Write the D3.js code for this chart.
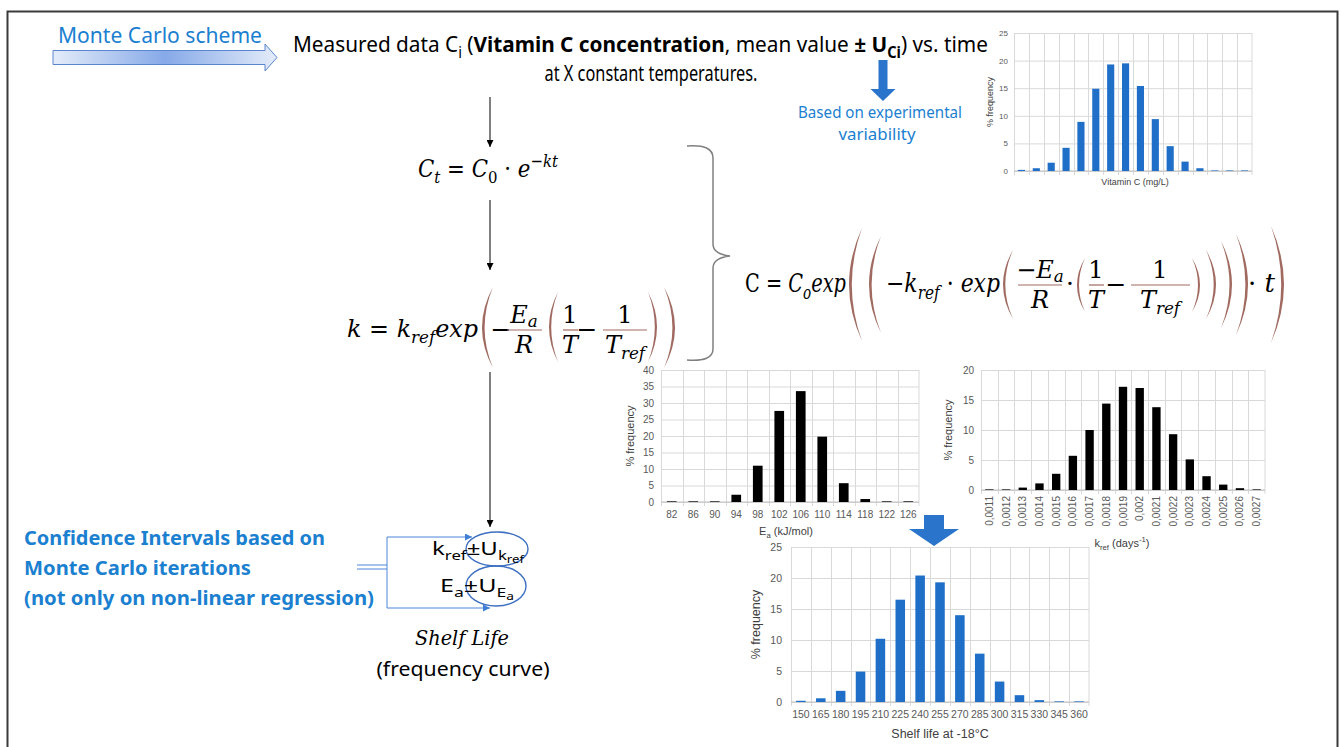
<!DOCTYPE html>
<html lang="en">
<head>
<meta charset="UTF-8">
<title>Monte Carlo scheme</title>
<script src="https://d3js.org/d3.v7.min.js"></script>
<style>
    body { margin: 0; background: #fff; }
    svg { display: block; }
</style>
</head>
<body>
<script>
    const W = 1341, H = 747;

    // histogram data (% frequency)
    const vitCBins = ["1","2","3","4","5","6","7","8","9","10","11","12","13","14","15","16"];
    const vitCValues = [0.2, 0.5, 1.5, 4.2, 8.9, 14.9, 19.3, 19.5, 15.4, 9.4, 4.5, 1.7, 0.5, 0.1, 0.1, 0.1];

    const eaLabels = ["82","86","90","94","98","102","106","110","114","118","122","126"];
    const eaValues = [0.2, 0.2, 0.2, 2.2, 11, 27.6, 33.6, 19.8, 5.7, 0.9, 0.2, 0.2];

    const krefLabels = ["0,0011","0,0012","0,0013","0,0014","0,0015","0,0016","0,0017","0,0018","0,0019",
                        "0,002","0,0021","0,0022","0,0023","0,0024","0,0025","0,0026","0,0027"];
    const krefValues = [0.1, 0.1, 0.4, 1.1, 2.7, 5.7, 10, 14.4, 17.2, 17, 13.8, 9.3, 5.1, 2.3, 0.9, 0.3, 0.1];

    const shelfLabels = ["150","165","180","195","210","225","240","255","270","285","300","315","330","345","360"];
    const shelfValues = [0.2, 0.6, 1.8, 4.9, 10.2, 16.5, 20.4, 19.3, 14, 7.8, 3.3, 1.1, 0.3, 0.1, 0.1];

    const SANS = "'Noto Sans', 'Open Sans', sans-serif";
    const SMALL = "'Liberation Sans', Arial, sans-serif";
    const MATH = "'DejaVu Serif', 'Liberation Serif', serif";
    const BLUE_TXT = "#1b80d0";
    const BAR_BLUE = "#1f6fc8";
    const PAREN = "#a06a60";

    const svg = d3.select("body").append("svg")
        .attr("width", W).attr("height", H);

    const defs = svg.append("defs");
    const grad = defs.append("linearGradient").attr("id", "mcGrad");
    grad.append("stop").attr("offset", "0%").attr("stop-color", "#e4ecf9");
    grad.append("stop").attr("offset", "50%").attr("stop-color", "#86a9e8");
    grad.append("stop").attr("offset", "100%").attr("stop-color", "#e4ecf9");

    function marker(id, color) {
        defs.append("marker").attr("id", id)
            .attr("viewBox", "0 0 10 10").attr("refX", 10).attr("refY", 5)
            .attr("markerWidth", 7).attr("markerHeight", 7).attr("orient", "auto")
            .append("path").attr("d", "M0,0L10,5L0,10Z").attr("fill", color);
    }
    marker("arrBlack", "#000");
    marker("arrBlue", "#3f7fd6");

    // rich text: parts = [{t, sub:1|2, sup, b, i, f}]
    function rich(sel, parts, fs, subK) {
        const k = subK || 0.25;
        let shift = 0;
        parts.forEach(p => {
            let off = 0, size = fs;
            if (p.sub === 1) { off = fs * k; size = fs * 0.7; }
            if (p.sub === 2) { off = fs * (k + 0.17); size = fs * 0.55; }
            if (p.sup) { off = -fs * 0.42; size = fs * 0.7; }
            const ts = sel.append("tspan").text(p.t)
                .attr("dy", off - shift)
                .attr("font-size", size);
            if (p.b) ts.attr("font-weight", "bold");
            if (p.i === false) ts.attr("font-style", "normal");
            if (p.i === true) ts.attr("font-style", "italic");
            if (p.f) ts.attr("font-family", p.f);
            shift = off;
        });
        return sel;
    }

    function label(x, y, parts, o) {
        const t = svg.append("text").attr("x", x).attr("y", y)
            .attr("font-family", o.font || SANS)
            .attr("font-size", o.fs)
            .attr("fill", o.color || "#000")
            .attr("text-anchor", o.anchor || "start");
        if (o.italic) t.attr("font-style", "italic");
        if (o.bold) t.attr("font-weight", "bold");
        if (o.len) t.attr("textLength", o.len).attr("lengthAdjust", "spacingAndGlyphs");
        return rich(t, typeof parts === "string" ? [{ t: parts }] : parts, o.fs, o.subK);
    }

    // ---- frame
    svg.append("rect").attr("x", 7.5).attr("y", 11.5).attr("width", 1330).attr("height", 760)
        .attr("fill", "none").attr("stroke", "#3a3a3a").attr("stroke-width", 2);

    // ---- Monte Carlo scheme arrow
    label(58, 43, "Monte Carlo scheme", { fs: 21, color: BLUE_TXT, len: 204 });
    svg.append("path")
        .attr("d", "M53,50.5H265V44L277,57.5L265,71V64.5H53Z")
        .attr("fill", "url(#mcGrad)").attr("stroke", "#5a86cf").attr("stroke-width", 1);

    // ---- heading
    label(293, 52, [
        { t: "Measured data C" }, { t: "i", sub: 1 }, { t: " (" },
        { t: "Vitamin C concentration", b: true }, { t: ", mean value " },
        { t: "± U", b: true }, { t: "Ci", sub: 1, b: true }, { t: ") vs. time" }
    ], { fs: 22, len: 695 });
    label(651, 81, "at X constant temperatures.", { fs: 22, len: 213, anchor: "middle" });

    // small blue arrow + note
    function blockArrow(cx, y0, y1, y2, shaftW, headW) {
        svg.append("path")
            .attr("d", `M${cx - shaftW / 2},${y0}H${cx + shaftW / 2}V${y1}H${cx + headW / 2}L${cx},${y2}L${cx - headW / 2},${y1}H${cx - shaftW / 2}Z`)
            .attr("fill", "#2b74cc");
    }
    blockArrow(883, 60, 89, 101, 9, 25);
    label(880, 118, "Based on experimental", { fs: 16, color: BLUE_TXT, len: 164, anchor: "middle" });
    label(877, 140, "variability", { fs: 16, color: BLUE_TXT, len: 77, anchor: "middle" });

    // ---- black arrows of the flow
    function vArrow(x, y0, y1) {
        svg.append("line").attr("x1", x).attr("x2", x).attr("y1", y0).attr("y2", y1)
            .attr("stroke", "#000").attr("stroke-width", 1).attr("marker-end", "url(#arrBlack)");
    }
    vArrow(490, 97, 147);
    vArrow(490, 200, 270);
    vArrow(490, 372, 527);

    // ---- parentheses & fraction helpers
    function paren(x, yT, yB, dir, b, w) {
        // dir = 1 for "(" (bulges left), -1 for ")"
        const ym = (yT + yB) / 2;
        svg.append("path")
            .attr("d", `M${x},${yT}Q${x - 2 * b * dir},${ym} ${x},${yB}Q${x - 2 * (b - w) * dir},${ym} ${x},${yT}Z`)
            .attr("fill", PAREN);
    }
    function frac(cx, x0, x1, yBar, num, den, fs) {
        svg.append("line").attr("x1", x0).attr("x2", x1).attr("y1", yBar).attr("y2", yBar)
            .attr("stroke", PAREN).attr("stroke-width", 1.2);
        label(cx, yBar - 7, num, { fs: fs, font: MATH, italic: true, anchor: "middle", subK: 0.15 });
        label(cx, yBar + 23, den, { fs: fs, font: MATH, italic: true, anchor: "middle" });
    }

    // ---- C_t = C_0 · e^-kt
    label(418, 177, [
        { t: "C" }, { t: "t", sub: 1 }, { t: " = ", i: false }, { t: "C" }, { t: "0", sub: 1, i: false },
        { t: " · ", i: false }, { t: "e" }, { t: "−kt", sup: true }
    ], { fs: 25, font: MATH, italic: true, len: 140 });

    // ---- k = k_ref exp(-Ea/R (1/T - 1/Tref))
    label(347, 337, [
        { t: "k" }, { t: " = ", i: false }, { t: "k" }, { t: "ref", sub: 1 }, { t: "exp" }
    ], { fs: 25, font: MATH, italic: true, len: 131 });
    paren(493, 287, 368, 1, 11, 2.6);
    label(501, 338, "−", { fs: 25, font: MATH, anchor: "middle" });
    frac(524, 507, 542, 330, [{ t: "E" }, { t: "a", sub: 1 }], "R", 24);
    paren(558, 292, 362, 1, 9, 2.2);
    frac(570, 563, 578, 330, [{ t: "1", i: false }], "T", 24);
    label(587, 338, "−", { fs: 25, font: MATH, anchor: "middle" });
    frac(625, 603, 647, 330, [{ t: "1", i: false }], [{ t: "T" }, { t: "ref", sub: 1 }], 24);
    paren(648, 292, 362, -1, 9, 2.2);
    paren(664, 287, 368, -1, 11, 2.6);

    // ---- brace
    svg.append("path")
        .attr("d", "M687,146Q713,144 713,158V244Q713,254 730,256Q713,258 713,268V349Q713,362 687,360")
        .attr("fill", "none").attr("stroke", "#808080").attr("stroke-width", 1.5);

    // ---- big model equation
    label(745, 292, [
        { t: "C", i: false }, { t: " = ", i: false }, { t: "C" }, { t: "o", sub: 1 }, { t: "exp" }
    ], { fs: 26, font: MATH, italic: true, len: 101 });
    paren(862, 228, 341, 1, 13, 2.8);
    paren(881, 236, 333, 1, 12, 2.6);
    label(886, 292, [
        { t: "−", i: false }, { t: "k" }, { t: "ref", sub: 1 }, { t: " · ", i: false }, { t: "exp" }
    ], { fs: 26, font: MATH, italic: true, len: 114 });
    paren(1013, 250, 319, 1, 10, 2.3);
    frac(1040, 1018, 1062, 285, [{ t: "−", i: false }, { t: "E" }, { t: "a", sub: 1 }], "R", 24);
    label(1070, 292, "·", { fs: 25, font: MATH, anchor: "middle" });
    paren(1085, 258, 312, 1, 8, 2);
    frac(1096, 1089, 1104, 285, [{ t: "1", i: false }], "T", 24);
    label(1116, 293, "−", { fs: 25, font: MATH, anchor: "middle" });
    frac(1160, 1131, 1190, 285, [{ t: "1", i: false }], [{ t: "T" }, { t: "ref", sub: 1 }], 24);
    paren(1192, 258, 312, -1, 8, 2);
    paren(1206, 250, 319, -1, 10, 2.3);
    paren(1221, 241, 328, -1, 11, 2.5);
    paren(1236, 234, 335, -1, 12, 2.6);
    label(1248, 292, [{ t: "· ", i: false }, { t: "t" }], { fs: 26, font: MATH, italic: true });
    paren(1271, 226, 343, -1, 13, 2.8);

    // ---- histograms
    function histogram(c) {
        const g = svg.append("g");
        const xg = d3.scaleBand().domain(c.cats).range([c.left, c.right]);
        const xb = d3.scaleBand().domain(c.cats).range([c.left, c.right])
            .paddingInner(c.gap).paddingOuter(c.gap / 2);
        const y = d3.scaleLinear().domain([0, c.yMax]).range([c.bottom, c.top]);

        const ya = g.append("g").attr("transform", `translate(${c.left},0)`)
            .call(d3.axisLeft(y).tickValues(c.yTicks).tickSize(-(c.right - c.left)).tickPadding(c.yPad));
        ya.select(".domain").remove();
        ya.selectAll("line").attr("stroke", "#d9d9d9");
        ya.selectAll("text").attr("fill", "#595959")
            .attr("font-family", SMALL).attr("font-size", c.tickFs);

        g.selectAll(null).data(c.cats.concat(["__end"])).join("line")
            .attr("x1", d => d === "__end" ? c.right : Math.round(xg(d)) + 0.5)
            .attr("x2", d => d === "__end" ? c.right : Math.round(xg(d)) + 0.5)
            .attr("y1", c.top).attr("y2", c.bottom + 4)
            .attr("stroke", "#d9d9d9");

        g.append("line").attr("x1", c.left).attr("x2", c.right)
            .attr("y1", y(0)).attr("y2", y(0)).attr("stroke", "#c0c0c0");

        g.selectAll(null).data(c.vals).join("rect")
            .attr("x", (d, i) => xb(c.cats[i]))
            .attr("y", d => y(d))
            .attr("width", xb.bandwidth())
            .attr("height", d => y(0) - y(d))
            .attr("fill", c.color);

        if (c.showX) {
            const xa = g.append("g").attr("transform", `translate(0,${c.bottom})`)
                .call(d3.axisBottom(xg).tickSize(0).tickPadding(c.xPad));
            xa.select(".domain").remove();
            xa.selectAll("text").attr("fill", "#595959")
                .attr("font-family", SMALL).attr("font-size", c.tickFs);
            if (c.rotate) {
                xa.selectAll("text").attr("transform", "rotate(-90)")
                    .attr("text-anchor", "end").attr("x", -c.xPad).attr("y", 0).attr("dy", "0.35em");
            }
        }

        svg.append("text")
            .attr("transform", `translate(${c.yTitleX},${(c.top + c.bottom) / 2}) rotate(-90)`)
            .attr("text-anchor", "middle").attr("font-family", SMALL)
            .attr("font-size", c.titleFs).attr("fill", "#404040")
            .text("% frequency");

        const xt = svg.append("text").attr("x", c.xTitle[0]).attr("y", c.xTitle[1])
            .attr("text-anchor", "middle").attr("font-family", SMALL)
            .attr("fill", "#404040").attr("font-size", c.titleFs);
        rich(xt, c.xTitleParts, c.titleFs);
    }

    histogram({
        cats: vitCBins, vals: vitCValues, color: BAR_BLUE, gap: 0.52,
        left: 1014, right: 1252, top: 33, bottom: 171,
        yMax: 25, yTicks: [0, 5, 10, 15, 20, 25], yPad: 6, tickFs: 8,
        showX: false, yTitleX: 993, titleFs: 9,
        xTitle: [1135, 185], xTitleParts: [{ t: "Vitamin C (mg/L)" }]
    });

    histogram({
        cats: eaLabels, vals: eaValues, color: "#000", gap: 0.55,
        left: 661, right: 919, top: 370, bottom: 502,
        yMax: 40, yTicks: [0, 5, 10, 15, 20, 25, 30, 35, 40], yPad: 7, tickFs: 10,
        showX: true, xPad: 9, yTitleX: 634, titleFs: 11,
        xTitle: [786, 535], xTitleParts: [{ t: "E" }, { t: "a", sub: 1 }, { t: " (kJ/mol)" }]
    });

    histogram({
        cats: krefLabels, vals: krefValues, color: "#000", gap: 0.5,
        left: 981, right: 1265, top: 370, bottom: 490,
        yMax: 20, yTicks: [0, 5, 10, 15, 20], yPad: 7, tickFs: 10,
        showX: true, rotate: true, xPad: 6, yTitleX: 952, titleFs: 11,
        xTitle: [1122, 547], xTitleParts: [{ t: "k" }, { t: "ref", sub: 1 }, { t: " (days" }, { t: "-1", sup: true }, { t: ")" }]
    });

    histogram({
        cats: shelfLabels, vals: shelfValues, color: BAR_BLUE, gap: 0.52,
        left: 791, right: 1089, top: 547, bottom: 702,
        yMax: 25, yTicks: [0, 5, 10, 15, 20, 25], yPad: 9, tickFs: 10.5,
        showX: true, xPad: 9, yTitleX: 760, titleFs: 12.5,
        xTitle: [940, 738], xTitleParts: [{ t: "Shelf life at -18°C" }]
    });

    // blue arrow into the shelf life chart
    blockArrow(934, 515, 529, 546, 20, 50);

    // ---- confidence interval notes
    label(24, 545, "Confidence Intervals based on", { fs: 20, bold: true, color: BLUE_TXT, len: 301 });
    label(24, 575, "Monte Carlo iterations", { fs: 20, bold: true, color: BLUE_TXT, len: 227 });
    label(24, 605, "(not only on non-linear regression)", { fs: 20, bold: true, color: BLUE_TXT, len: 350 });

    const conn = "#4a86d8";
    svg.append("line").attr("x1", 357).attr("x2", 387).attr("y1", 565).attr("y2", 565).attr("stroke", conn);
    svg.append("line").attr("x1", 357).attr("x2", 387).attr("y1", 569).attr("y2", 569).attr("stroke", conn);
    svg.append("line").attr("x1", 387).attr("x2", 387).attr("y1", 537).attr("y2", 608).attr("stroke", conn);
    svg.append("line").attr("x1", 387).attr("x2", 472).attr("y1", 537).attr("y2", 537)
        .attr("stroke", conn).attr("marker-end", "url(#arrBlue)");
    svg.append("line").attr("x1", 387).attr("x2", 490).attr("y1", 608).attr("y2", 608)
        .attr("stroke", conn).attr("marker-end", "url(#arrBlue)");

    svg.append("ellipse").attr("cx", 497).attr("cy", 549).attr("rx", 31).attr("ry", 17)
        .attr("fill", "none").attr("stroke", "#3d6fc2").attr("stroke-width", 1.4);
    svg.append("ellipse").attr("cx", 496).attr("cy", 586).attr("rx", 30).attr("ry", 20)
        .attr("fill", "none").attr("stroke", "#3d6fc2").attr("stroke-width", 1.4);

    label(432, 555, [
        { t: "k" }, { t: "ref", sub: 1 }, { t: "±U" }, { t: "k", sub: 1 }, { t: "ref", sub: 2 }
    ], { fs: 18, len: 92 });
    label(440, 592, [
        { t: "E" }, { t: "a", sub: 1 }, { t: "±U" }, { t: "E", sub: 1 }, { t: "a", sub: 2 }
    ], { fs: 18, len: 74 });

    label(462, 645, "Shelf Life", { fs: 21, font: MATH, italic: true, anchor: "middle", len: 94 });
    label(463, 676, "(frequency curve)", { fs: 20, anchor: "middle", len: 173 });
</script>
</body>
</html>
